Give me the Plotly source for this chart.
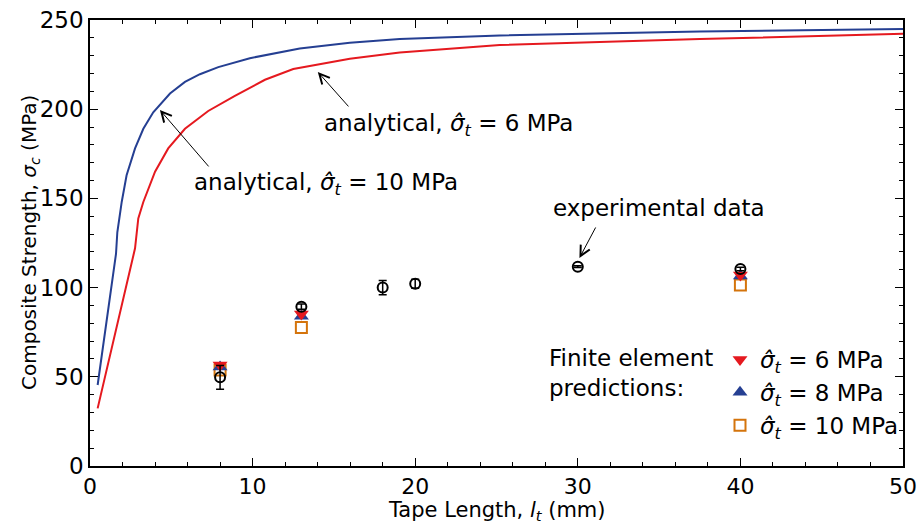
import plotly.graph_objects as go

# ---- data ----
blue_x = [0.47, 1.6, 1.68, 1.95, 2.25, 2.77, 3.28, 3.89, 4.92, 5.84, 6.76, 7.89, 9.83, 12.9, 15.98, 19.05, 25.2, 37.5, 50.0]
blue_y = [45.4, 119, 131, 148, 163, 178, 189, 198.3, 208.8, 215.3, 219.6, 223.6, 228.6, 234.0, 237.3, 239.3, 241.3, 243.5, 245]

red_x = [0.47, 2.77, 2.97, 3.28, 4.0, 4.81, 5.84, 6.76, 7.27, 8.91, 9.83, 10.76, 12.5, 15.98, 19.05, 25.2, 37.5, 50.0]
red_y = [32.3, 122, 138.8, 148, 165, 178, 189, 195.5, 199, 207.5, 212, 216.5, 222.5, 228.3, 231.8, 236, 239.3, 242.3]

exp_x = [8, 13, 18, 20, 30, 40]
exp_y = [49.7, 89.3, 100, 102.2, 111.7, 110.4]
exp_err = [6.7, 1.5, 4.0, 2.5, 0.5, 1.0]

fe_x = [8, 13, 40]
fe6_y = [56.6, 85.2, 107]
fe8_y = [55.5, 84.0, 106.5]
fe10_y = [53.8, 77.7, 101.5]

BLUE = "#253f92"
RED = "#e5191f"
ORANGE = "#d4740c"
FONT = "DejaVu Sans"
FS = 23

fig = go.Figure()
fig.add_trace(go.Scatter(x=blue_x, y=blue_y, mode="lines", line=dict(color=BLUE, width=2), showlegend=False))
fig.add_trace(go.Scatter(x=red_x, y=red_y, mode="lines", line=dict(color=RED, width=2), showlegend=False))

fig.add_trace(go.Scatter(x=fe_x, y=fe10_y, mode="markers", name="<i>σ̂</i><sub><i>t</i></sub> = 10 MPa",
                         marker=dict(symbol="square-open", size=11, color=ORANGE, line=dict(width=2, color=ORANGE))))
fig.add_trace(go.Scatter(x=fe_x, y=fe8_y, mode="markers", name="<i>σ̂</i><sub><i>t</i></sub> = 8 MPa",
                         marker=dict(symbol="triangle-up", size=13, color=BLUE, line=dict(width=0))))
fig.add_trace(go.Scatter(x=fe_x, y=fe6_y, mode="markers", name="<i>σ̂</i><sub><i>t</i></sub> = 6 MPa",
                         marker=dict(symbol="triangle-down", size=13, color=RED, line=dict(width=0))))
fig.add_trace(go.Scatter(x=exp_x, y=exp_y, mode="markers", showlegend=False,
                         error_y=dict(type="data", array=exp_err, color="black", thickness=1.5, width=4),
                         marker=dict(symbol="circle-open", size=10, color="black", line=dict(width=2, color="black"))))

annos = [
    dict(x=22.07, y=191.1, text="analytical, <i>σ̂</i><sub><i>t</i></sub> = 6 MPa", showarrow=False),
    dict(x=14.5, y=158.1, text="analytical, <i>σ̂</i><sub><i>t</i></sub> = 10 MPa", showarrow=False),
    dict(x=35.0, y=144.6, text="experimental data", showarrow=False),
    dict(x=28.1, y=52.1, text="Finite element<br>predictions:", showarrow=False, xanchor="left", align="left"),
]
arrows = [
    dict(x=14.01, y=220.9, ax=32, ay=36),
    dict(x=4.30, y=199.6, ax=50, ay=58),
    dict(x=30.1, y=116.6, ax=17, ay=-32),
]
for a in annos:
    fig.add_annotation(xref="x", yref="y", font=dict(family=FONT, size=FS, color="black"), **a)
for a in arrows:
    fig.add_annotation(xref="x", yref="y", axref="pixel", ayref="pixel", text="", showarrow=True,
                       arrowhead=5, arrowsize=2, arrowwidth=1, arrowcolor="black", **a)

# axis titles
fig.add_annotation(xref="paper", yref="paper", x=0.5, y=0, yanchor="middle", yshift=-45, showarrow=False,
                   text="Tape Length, <i>l</i><sub><i>t</i></sub> (mm)",
                   font=dict(family=FONT, size=21, color="black"))
fig.add_annotation(xref="paper", yref="paper", x=0, y=0.5, xanchor="center", yanchor="middle", xshift=-60,
                   textangle=-90, showarrow=False,
                   text="Composite Strength, <i>σ</i><sub><i>c</i></sub> (MPa)",
                   font=dict(family=FONT, size=20, color="black"))

axis_common = dict(showline=True, linecolor="black", linewidth=1.5, mirror="ticks", ticks="inside",
                   ticklen=8, tickwidth=1, tickcolor="black", showgrid=False, zeroline=False,
                   automargin=False)
fig.update_xaxes(range=[0, 50], dtick=10, tickfont=dict(family=FONT, size=22, color="black"),
                 minor=dict(dtick=2, ticks="inside", ticklen=4, tickcolor="black"), **axis_common)
fig.update_yaxes(range=[0, 250], dtick=50, tickfont=dict(family=FONT, size=FS, color="black"),
                 minor=dict(dtick=10, ticks="inside", ticklen=4, tickcolor="black"), **axis_common)

fig.update_layout(
    width=923, height=526,
    margin=dict(l=90, r=20, t=20, b=60),
    plot_bgcolor="white", paper_bgcolor="white",
    font=dict(family=FONT, size=FS, color="black"),
    legend=dict(x=(720 - 90) / 813, xanchor="left", y=(466 - 338) / 446, yanchor="top",
                bgcolor="rgba(0,0,0,0)", traceorder="reversed", tracegroupgap=0,
                font=dict(family=FONT, size=FS, color="black"), itemwidth=30),
)

fig.write_html("out.html")
